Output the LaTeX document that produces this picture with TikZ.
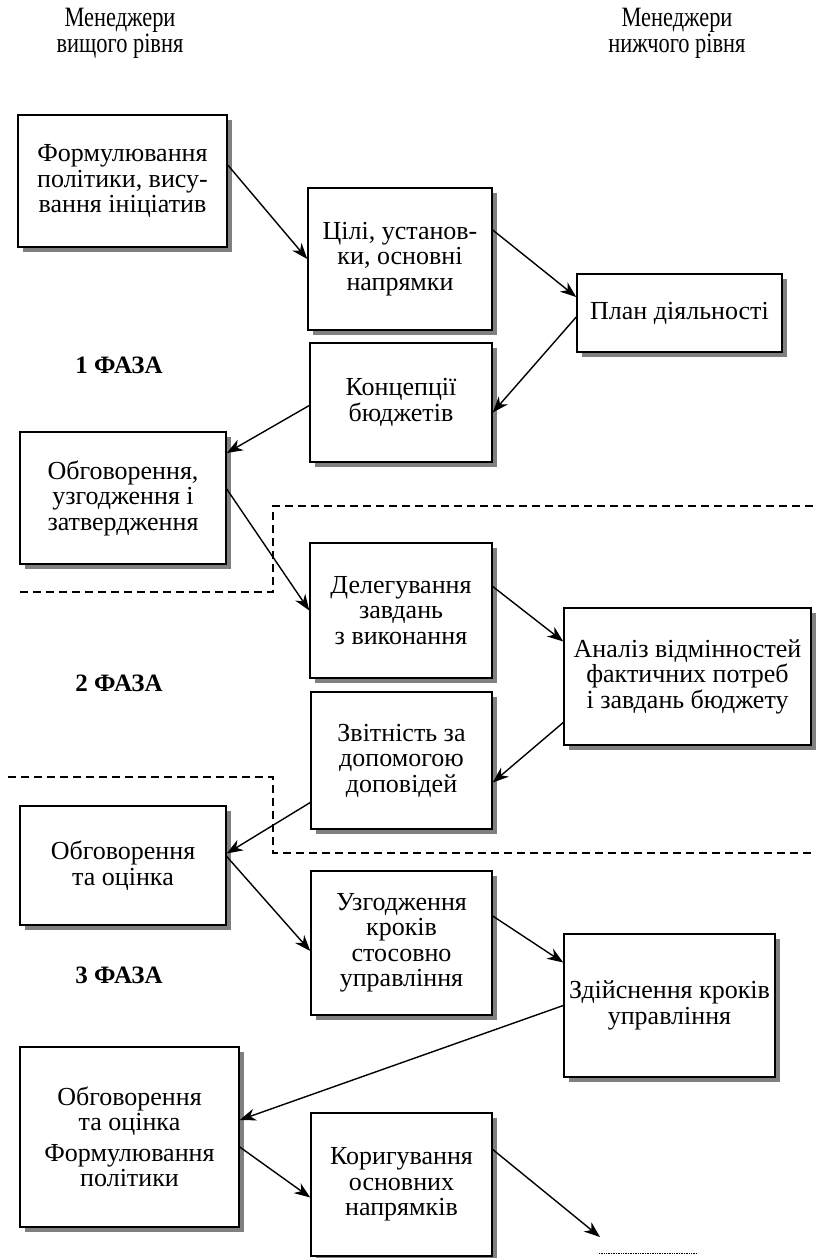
\documentclass[tikz,border=0pt]{standalone}
\usepackage{fontspec}
\setmainfont{Liberation Serif}
\newfontfamily\headfont{Liberation Serif}[FakeStretch=0.8]
\usepackage{tikz}
\usetikzlibrary{arrows.meta,calc,shadows}

\begin{document}
\begin{tikzpicture}[x=1pt, y=-1pt,
    every node/.style={font=\fontsize{26}{25.5}\selectfont},
    box/.style={draw, line width=1.5pt, fill=white, align=center, inner sep=2pt,
      drop shadow={shadow xshift=5pt, shadow yshift=-5pt, fill=black!50, opacity=1}},
    phase/.style={font=\fontsize{25}{25}\selectfont\bfseries},
    head/.style={align=center, font=\headfont\fontsize{28}{26}\selectfont},
    arr/.style={-{Stealth[length=16pt, width=12pt, inset=5pt]}, line width=1.4pt},
    zone/.style={dash pattern=on 8pt off 5pt, line width=1.2pt}]
    \useasboundingbox (0,0) rectangle (815,1258);

    \node[head] (upper) at (120,33) {Менеджери\\вищого рівня};
    \node[head] (lower) at (677,33) {Менеджери\\нижчого рівня};

    \node[box, minimum width=209pt, minimum height=132pt] (policy) at (122.5,181) {Формулювання\\політики, вису-\\вання ініціатив};
    \node[box, minimum width=184pt, minimum height=142pt] (goals) at (400,259) {Цілі, установ-\\ки, основні\\напрямки};
    \node[box, minimum width=205pt, minimum height=78pt] (plan) at (679.5,313) {План діяльності};
    \node[box, minimum width=182pt, minimum height=119pt] (concept) at (401,402.5) {Концепції\\бюджетів};
    \node[box, minimum width=206pt, minimum height=132pt] (approve) at (123,498) {Обговорення,\\узгодження і\\затвердження};
    \node[box, minimum width=182pt, minimum height=135pt] (deleg) at (401,610.5) {Делегування\\завдань\\з виконання};
    \node[box, minimum width=247pt, minimum height=137pt] (gap) at (687.5,676.5) {Аналіз відмінностей\\фактичних потреб\\і завдань бюджету};
    \node[box, minimum width=181pt, minimum height=137pt] (report) at (401.5,760.5) {Звітність за\\допомогою\\доповідей};
    \node[box, minimum width=206pt, minimum height=119pt] (review) at (123,865.5) {Обговорення\\та оцінка};
    \node[box, minimum width=181pt, minimum height=144pt] (steps) at (401.5,943) {Узгодження\\кроків\\стосовно\\управління};
    \node[box, minimum width=211pt, minimum height=143pt] (act) at (669.5,1005.5) {Здійснення кроків\\управління};
    \node[box, minimum width=219pt, minimum height=180pt] (rereview) at (129.5,1137) {Обговорення\\та оцінка\\[5pt]Формулювання\\політики};
    \node[box, minimum width=181pt, minimum height=143pt] (adjust) at (401.5,1184.5) {Коригування\\основних\\напрямків};

    \node[phase] (ph1) at (119,365) {1 ФАЗА};
    \node[phase] (ph2) at (119,683) {2 ФАЗА};
    \node[phase] (ph3) at (119,975) {3 ФАЗА};

    \draw[zone] (20,592) -- (273,592) -- (273,506) -- (815,506);
    \draw[zone] (8,777) -- (273,777) -- (273,853) -- (815,853);

    \draw[arr] ($(policy.east)+(0,-16)$) -- (goals.west);
    \draw[arr] ($(goals.east)+(0,-29)$) -- ($(plan.west)+(0,-16)$);
    \draw[arr] ($(plan.west)+(0,4)$) -- ($(concept.east)+(0,10)$);
    \draw[arr] ($(concept.west)+(0,3)$) -- ($(approve.east)+(0,-45)$);
    \draw[arr] ($(approve.east)+(0,-9)$) -- (deleg.west);
    \draw[arr] ($(deleg.east)+(0,-24)$) -- ($(gap.west)+(0,-35)$);
    \draw[arr] ($(gap.west)+(0,46)$) -- ($(report.east)+(0,22)$);
    \draw[arr] ($(report.west)+(0,42)$) -- ($(review.east)+(0,-12)$);
    \draw[arr] ($(review.east)+(0,-9)$) -- ($(steps.west)+(0,8)$);
    \draw[arr] ($(steps.east)+(0,-27)$) -- ($(act.west)+(0,-43)$);
    \draw[arr] (act.west) -- ($(rereview.east)+(0,-17)$);
    \draw[arr] ($(rereview.east)+(0,10)$) -- ($(adjust.west)+(0,13)$);
    \coordinate (next) at (600,1237);
    \draw[arr] ($(adjust.east)+(0,-35)$) -- (next);
    \draw[densely dotted, line width=0.7pt] (599,1253) -- (697,1253);
\end{tikzpicture}
\end{document}
